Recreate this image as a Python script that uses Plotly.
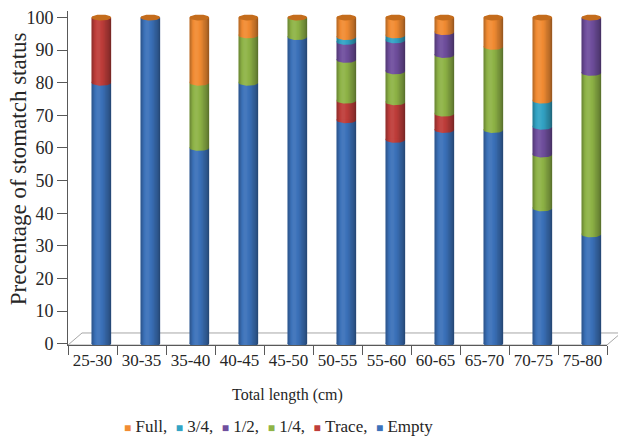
import numpy as np
import plotly.graph_objects as go

# Stomach fullness by total-length class (% of fish in each class)
categories = ["25-30", "30-35", "35-40", "40-45", "45-50", "50-55",
              "55-60", "60-65", "65-70", "70-75", "75-80"]
empty = [80, 100, 60, 80, 94, 68.5, 62.5, 65.5, 65.5, 41.5, 33.5]
trace = [20, 0, 0, 0, 0, 6, 11.5, 5, 0, 0, 0]
quarter = [0, 0, 20, 14.5, 6, 12.5, 9.5, 18, 25.5, 16.5, 49.5]
half = [0, 0, 0, 0, 0, 5.5, 9.5, 7, 0, 8.5, 17]
three_quarter = [0, 0, 0, 0, 0, 1.5, 1.5, 0, 0, 8, 0]
full = [0, 0, 20, 5.5, 0, 6, 5.5, 4.5, 9, 25.5, 0]

# stacking order, bottom to top
series_names = ["Empty", "Trace,", "1/4,", "1/2,", "3/4,", "Full,"]
series_values = [empty, trace, quarter, half, three_quarter, full]
series_colors = ["#3c72ba", "#bf3e3b", "#8fb447", "#704f9e", "#33a4c5", "#f28c33"]
cap_color = "#c46c1c"
y_ticks = list(range(0, 101, 10))

FONT = "Liberation Serif, Times New Roman, serif"
TEXT = "#262626"
AXIS = "#595959"

# cylinder geometry (category units / y units)
BAR_W = 0.4
SHIFT = 0.18
R = BAR_W / 2
H = 0.9
SEAM = 0.3

idx = list(range(len(categories)))
centers = [i + SHIFT for i in idx]
totals = [sum(v[i] for v in series_values) for i in idx]

fig = go.Figure()

# stacked segments
base = [0.0] * len(idx)
bases = []
for name, vals, col in zip(series_names, series_values, series_colors):
    bases.append(list(base))
    fig.add_trace(go.Bar(
        x=idx, y=vals, base=base, width=BAR_W, offset=SHIFT - BAR_W / 2,
        marker=dict(color=col, line=dict(width=0)),
        name=name, showlegend=False,
        customdata=[categories[i] for i in idx],
        hovertemplate="%{customdata}: %{y}%<extra>" + name + "</extra>",
    ))
    base = [b + v for b, v in zip(base, vals)]

# rounded lower edge of every segment (front half of its bottom ellipse)
t_low = np.linspace(0, np.pi, 31)
for s, (vals, col) in enumerate(zip(series_values, series_colors)):
    xs, ys = [], []
    for i in idx:
        if vals[i] <= 0:
            continue
        b = bases[s][i]
        xs += [centers[i] + R] + list(centers[i] + R * np.cos(t_low)) + [centers[i] - R, None]
        ys += [b + SEAM] + list(b - H * np.sin(t_low)) + [b + SEAM, None]
    if xs:
        fig.add_trace(go.Scatter(
            x=xs, y=ys, mode="lines", fill="toself", fillcolor=col,
            line=dict(width=0), hoverinfo="skip", showlegend=False))

# cylindrical shading: vertical strips, dark at the rims, light left of centre
n_strips = 16
edges = np.linspace(0, 1, n_strips + 1)
for k in range(n_strips):
    u = (edges[k] + edges[k + 1]) / 2
    if u < 0.32:
        a = 0.36 * ((0.32 - u) / 0.32) ** 1.6 - 0.07
    else:
        a = 0.46 * ((u - 0.32) / 0.68) ** 1.5 - 0.07
    rgba = f"rgba(0,0,0,{a:.3f})" if a >= 0 else f"rgba(255,255,255,{-a:.3f})"
    xs, ys = [], []
    for i in idx:
        x0 = centers[i] - R + 2 * R * edges[k]
        x1 = centers[i] - R + 2 * R * edges[k + 1]
        y0 = -H * np.sqrt(max(0.0, 1 - ((x0 - centers[i]) / R) ** 2))
        y1 = -H * np.sqrt(max(0.0, 1 - ((x1 - centers[i]) / R) ** 2))
        xs += [x0, x1, x1, x0, None]
        ys += [y0, y1, totals[i], totals[i], None]
    fig.add_trace(go.Scatter(
        x=xs, y=ys, mode="lines", fill="toself", fillcolor=rgba,
        line=dict(width=0), hoverinfo="skip", showlegend=False))

# top caps
t_full = np.linspace(0, 2 * np.pi, 61)
xs, ys = [], []
for i in idx:
    xs += list(centers[i] + R * np.cos(t_full)) + [None]
    ys += list(totals[i] + H * np.sin(t_full)) + [None]
fig.add_trace(go.Scatter(
    x=xs, y=ys, mode="lines", fill="toself", fillcolor=cap_color,
    line=dict(width=0), hoverinfo="skip", showlegend=False))

# floor of the 3-D box
fig.add_shape(type="path", xref="paper", yref="paper",
              path="M 0 0 L 1 0 L 1.026 0.036 L 0.026 0.036 Z",
              line=dict(color="#a6a6a6", width=1), fillcolor="white",
              layer="below")

# legend line: coloured squares followed by the series names, top of stack first
legend_parts = []
for name, col in zip(series_names[::-1], series_colors[::-1]):
    legend_parts.append(
        f"<span style='color:{col};font-size:12px'>\u25a0</span>\u00a0{name}")
legend_text = "\u00a0\u00a0".join(legend_parts)

fig.add_annotation(text=legend_text, xref="paper", yref="paper",
                   x=0.0996, y=-0.243, xanchor="left", yanchor="middle",
                   showarrow=False, font=dict(family=FONT, size=17, color=TEXT))
fig.add_annotation(text="Total length (cm)", xref="paper", yref="paper",
                   x=0.408, y=-0.151, xanchor="center", yanchor="middle",
                   showarrow=False, font=dict(family=FONT, size=16, color=TEXT))
fig.add_annotation(text="Precentage of stomatch status", xref="paper", yref="paper",
                   x=-0.0918, y=0.528, xanchor="center", yanchor="middle",
                   textangle=-90, showarrow=False,
                   font=dict(family=FONT, size=23, color=TEXT))

fig.update_layout(
    width=618, height=440,
    margin=dict(l=68, r=11, t=8, b=95),
    paper_bgcolor="white", plot_bgcolor="white",
    barmode="overlay", showlegend=False,
    font=dict(family=FONT, color=TEXT),
    xaxis=dict(
        range=[-0.5, len(categories) - 0.5],
        tickmode="array", tickvals=idx, ticktext=categories, ticks="",
        tickfont=dict(family=FONT, size=17, color=TEXT),
        showgrid=False, zeroline=False,
        showline=True, linecolor=AXIS, linewidth=1,
        minor=dict(tickmode="array",
                   tickvals=[i - 0.5 for i in range(len(categories) + 1)],
                   ticks="outside", ticklen=9, tickcolor=AXIS, tickwidth=1,
                   showgrid=False),
    ),
    yaxis=dict(
        range=[-0.4, 102],
        tickmode="array", tickvals=y_ticks, ticks="outside", ticklen=10,
        tickcolor=AXIS, tickwidth=1,
        tickfont=dict(family=FONT, size=18, color=TEXT),
        showgrid=False, zeroline=False,
        showline=True, linecolor=AXIS, linewidth=1,
    ),
)

fig.write_html("out.html")
